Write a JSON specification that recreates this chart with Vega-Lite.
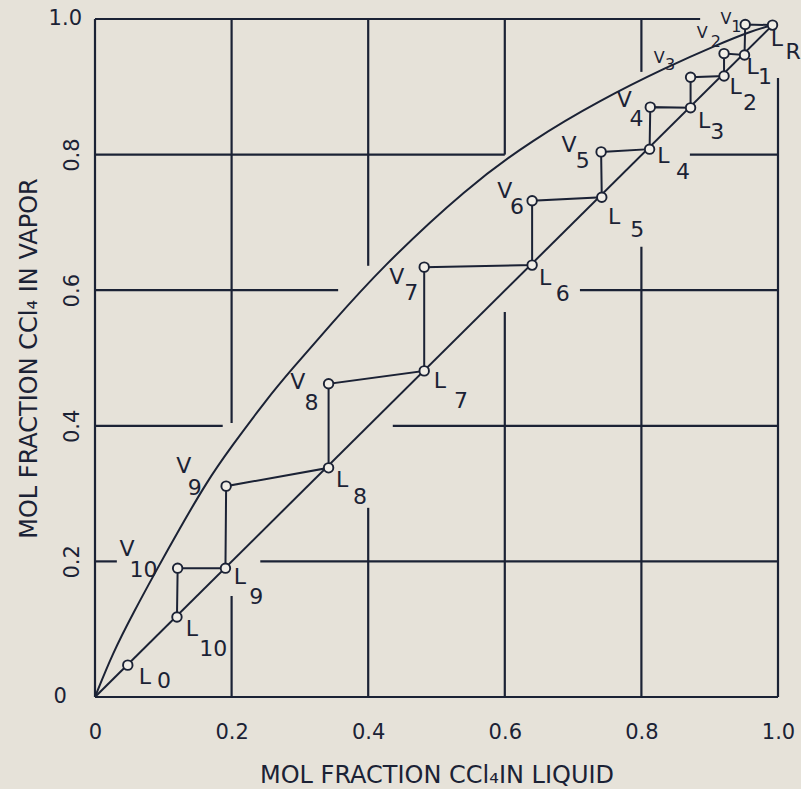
{
  "$schema": "https://vega.github.io/schema/vega-lite/v6.json",
  "width": 683,
  "height": 678,
  "autosize": "none",
  "padding": {"left": 95, "top": 19, "right": 23, "bottom": 92},
  "background": "#e6e2d9",
  "config": {
    "view": {"stroke": null},
    "font": "DejaVu Sans",
    "axis": {"labelFont": "DejaVu Sans", "titleFont": "DejaVu Sans", "labelColor": "#1b2235", "titleColor": "#1b2235", "titleFontWeight": "normal"}
  },
  "datasets": {
    "grid": [
      {"x": 0, "y": 0, "x2": 0, "y2": 1},
      {"x": 0, "y": 0, "x2": 1, "y2": 0},
      {"x": 0, "y": 1, "x2": 0.886, "y2": 1},
      {"x": 1, "y": 0, "x2": 1, "y2": 0.913},
      {"x": 0.2, "y": 0.404, "x2": 0.2, "y2": 1},
      {"x": 0.2, "y": 0, "x2": 0.2, "y2": 0.149},
      {"x": 0.4, "y": 0.636, "x2": 0.4, "y2": 1},
      {"x": 0.4, "y": 0, "x2": 0.4, "y2": 0.279},
      {"x": 0.6, "y": 0.8, "x2": 0.6, "y2": 1},
      {"x": 0.6, "y": 0, "x2": 0.6, "y2": 0.568},
      {"x": 0.8, "y": 0.922, "x2": 0.8, "y2": 1},
      {"x": 0.8, "y": 0, "x2": 0.8, "y2": 0.664},
      {"x": 0, "y": 0.2, "x2": 0.032, "y2": 0.2},
      {"x": 0.242, "y": 0.2, "x2": 1, "y2": 0.2},
      {"x": 0, "y": 0.4, "x2": 0.187, "y2": 0.4},
      {"x": 0.436, "y": 0.4, "x2": 1, "y2": 0.4},
      {"x": 0, "y": 0.6, "x2": 0.356, "y2": 0.6},
      {"x": 0.71, "y": 0.6, "x2": 1, "y2": 0.6},
      {"x": 0, "y": 0.8, "x2": 0.6, "y2": 0.8},
      {"x": 0.871, "y": 0.8, "x2": 1, "y2": 0.8}
    ],
    "yticks": [
      {"text": "1.0", "x": -0.019, "y": 1},
      {"text": "0", "x": -0.041, "y": 0}
    ],
    "curves": [
      {"curve": "diag", "x": 0, "y": 0},
      {"curve": "diag", "x": 0.992, "y": 0.991},
      {"curve": "equil", "x": 0, "y": 0},
      {"curve": "equil", "x": 0.026, "y": 0.065},
      {"curve": "equil", "x": 0.056, "y": 0.124},
      {"curve": "equil", "x": 0.091, "y": 0.189},
      {"curve": "equil", "x": 0.122, "y": 0.245},
      {"curve": "equil", "x": 0.164, "y": 0.318},
      {"curve": "equil", "x": 0.198, "y": 0.367},
      {"curve": "equil", "x": 0.252, "y": 0.440},
      {"curve": "equil", "x": 0.286, "y": 0.481},
      {"curve": "equil", "x": 0.344, "y": 0.548},
      {"curve": "equil", "x": 0.417, "y": 0.631},
      {"curve": "equil", "x": 0.545, "y": 0.752},
      {"curve": "equil", "x": 0.641, "y": 0.822},
      {"curve": "equil", "x": 0.739, "y": 0.880},
      {"curve": "equil", "x": 0.837, "y": 0.929},
      {"curve": "equil", "x": 0.911, "y": 0.962},
      {"curve": "equil", "x": 0.963, "y": 0.983},
      {"curve": "equil", "x": 0.992, "y": 0.991}
    ],
    "nodes": [
      {"seq": 0, "name": "LR", "x": 0.992, "y": 0.991},
      {"seq": 1, "name": "V1", "x": 0.952, "y": 0.992},
      {"seq": 2, "name": "L1", "x": 0.951, "y": 0.947},
      {"seq": 3, "name": "V2", "x": 0.921, "y": 0.949},
      {"seq": 4, "name": "L2", "x": 0.921, "y": 0.916},
      {"seq": 5, "name": "V3", "x": 0.872, "y": 0.914},
      {"seq": 6, "name": "L3", "x": 0.872, "y": 0.869},
      {"seq": 7, "name": "V4", "x": 0.813, "y": 0.870},
      {"seq": 8, "name": "L4", "x": 0.812, "y": 0.808},
      {"seq": 9, "name": "V5", "x": 0.741, "y": 0.804},
      {"seq": 10, "name": "L5", "x": 0.742, "y": 0.737},
      {"seq": 11, "name": "V6", "x": 0.640, "y": 0.732},
      {"seq": 12, "name": "L6", "x": 0.640, "y": 0.637},
      {"seq": 13, "name": "V7", "x": 0.482, "y": 0.634},
      {"seq": 14, "name": "L7", "x": 0.482, "y": 0.481},
      {"seq": 15, "name": "V8", "x": 0.342, "y": 0.462},
      {"seq": 16, "name": "L8", "x": 0.342, "y": 0.338},
      {"seq": 17, "name": "V9", "x": 0.192, "y": 0.311},
      {"seq": 18, "name": "L9", "x": 0.191, "y": 0.190},
      {"seq": 19, "name": "V10", "x": 0.121, "y": 0.190},
      {"seq": 20, "name": "L10", "x": 0.120, "y": 0.118},
      {"seq": 21, "name": "L0", "x": 0.048, "y": 0.047}
    ],
    "labels": [
      {"stage": "LR", "text": "L", "x": 0.9985, "y": 0.9705},
      {"stage": "LR", "text": "R", "x": 1.022, "y": 0.951},
      {"stage": "V1", "text": "V", "x": 0.924, "y": 1.0},
      {"stage": "V1", "text": "1", "x": 0.939, "y": 0.988},
      {"stage": "V2", "text": "V", "x": 0.889, "y": 0.979},
      {"stage": "V2", "text": "2", "x": 0.909, "y": 0.966},
      {"stage": "V3", "text": "V", "x": 0.826, "y": 0.943},
      {"stage": "V3", "text": "3", "x": 0.842, "y": 0.932},
      {"stage": "L1", "text": "L", "x": 0.963, "y": 0.929},
      {"stage": "L1", "text": "1", "x": 0.981, "y": 0.914},
      {"stage": "L2", "text": "L", "x": 0.938, "y": 0.900},
      {"stage": "L2", "text": "2", "x": 0.959, "y": 0.876},
      {"stage": "V4", "text": "V", "x": 0.775, "y": 0.880},
      {"stage": "V4", "text": "4", "x": 0.793, "y": 0.853},
      {"stage": "L3", "text": "L", "x": 0.892, "y": 0.850},
      {"stage": "L3", "text": "3", "x": 0.911, "y": 0.833},
      {"stage": "V5", "text": "V", "x": 0.694, "y": 0.814},
      {"stage": "V5", "text": "5", "x": 0.714, "y": 0.790},
      {"stage": "L4", "text": "L", "x": 0.832, "y": 0.798},
      {"stage": "L4", "text": "4", "x": 0.861, "y": 0.774},
      {"stage": "V6", "text": "V", "x": 0.600, "y": 0.746},
      {"stage": "V6", "text": "6", "x": 0.618, "y": 0.722},
      {"stage": "L5", "text": "L", "x": 0.760, "y": 0.708},
      {"stage": "L5", "text": "5", "x": 0.794, "y": 0.689},
      {"stage": "L6", "text": "L", "x": 0.659, "y": 0.618},
      {"stage": "L6", "text": "6", "x": 0.685, "y": 0.594},
      {"stage": "V7", "text": "V", "x": 0.442, "y": 0.620},
      {"stage": "V7", "text": "7", "x": 0.463, "y": 0.596},
      {"stage": "L7", "text": "L", "x": 0.505, "y": 0.466},
      {"stage": "L7", "text": "7", "x": 0.536, "y": 0.437},
      {"stage": "V8", "text": "V", "x": 0.297, "y": 0.465},
      {"stage": "V8", "text": "8", "x": 0.317, "y": 0.434},
      {"stage": "L8", "text": "L", "x": 0.362, "y": 0.320},
      {"stage": "L8", "text": "8", "x": 0.388, "y": 0.295},
      {"stage": "V9", "text": "V", "x": 0.130, "y": 0.341},
      {"stage": "V9", "text": "9", "x": 0.146, "y": 0.308},
      {"stage": "V10", "text": "V", "x": 0.047, "y": 0.218},
      {"stage": "V10", "text": "10", "x": 0.071, "y": 0.188},
      {"stage": "L9", "text": "L", "x": 0.212, "y": 0.177},
      {"stage": "L9", "text": "9", "x": 0.236, "y": 0.147},
      {"stage": "L10", "text": "L", "x": 0.142, "y": 0.100},
      {"stage": "L10", "text": "10", "x": 0.173, "y": 0.071},
      {"stage": "L0", "text": "L", "x": 0.073, "y": 0.029},
      {"stage": "L0", "text": "0", "x": 0.101, "y": 0.024}
    ]
  },
  "layer": [
    {
      "data": {"name": "grid"},
      "mark": {"type": "rule", "color": "#1b2235", "strokeWidth": 2.2},
      "encoding": {
        "x": {
          "field": "x", "type": "quantitative",
          "scale": {"domain": [0, 1], "nice": false},
          "axis": {
            "values": [0, 0.2, 0.4, 0.6, 0.8, 1],
            "labelExpr": "datum.value == 0 ? '0' : format(datum.value, '.1f')",
            "labelFontSize": 21, "labelPadding": 24, "labelFlush": false,
            "domain": false, "ticks": false, "grid": false,
            "title": "MOL FRACTION CCl₄IN LIQUID",
            "titleFontSize": 24, "titlePadding": 21
          }
        },
        "x2": {"field": "x2"},
        "y": {
          "field": "y", "type": "quantitative",
          "scale": {"domain": [0, 1], "nice": false},
          "axis": {
            "values": [0.2, 0.4, 0.6, 0.8],
            "labelExpr": "format(datum.value, '.1f')",
            "labelAngle": 270, "labelFontSize": 21, "labelPadding": 13,
            "domain": false, "ticks": false, "grid": false,
            "title": "MOL FRACTION CCl₄ IN VAPOR",
            "titleFontSize": 24, "titlePadding": 20
          }
        },
        "y2": {"field": "y2"}
      }
    },
    {
      "data": {"name": "yticks"},
      "mark": {"type": "text", "font": "DejaVu Sans", "fontSize": 21, "color": "#1b2235", "align": "right", "baseline": "middle"},
      "encoding": {
        "x": {"field": "x", "type": "quantitative"},
        "y": {"field": "y", "type": "quantitative"},
        "text": {"field": "text"}
      }
    },
    {
      "data": {"name": "curves"},
      "mark": {"type": "line", "color": "#1b2235", "strokeWidth": 2, "interpolate": "basis"},
      "encoding": {
        "x": {"field": "x", "type": "quantitative"},
        "y": {"field": "y", "type": "quantitative"},
        "detail": {"field": "curve"}
      }
    },
    {
      "data": {"name": "nodes"},
      "transform": [{"filter": "datum.name != 'L0'"}],
      "mark": {"type": "line", "color": "#1b2235", "strokeWidth": 2},
      "encoding": {
        "x": {"field": "x", "type": "quantitative"},
        "y": {"field": "y", "type": "quantitative"},
        "order": {"field": "seq"}
      }
    },
    {
      "data": {"name": "nodes"},
      "mark": {"type": "point", "shape": "circle", "filled": false, "fill": "#f1eee7", "fillOpacity": 1, "stroke": "#1b2235", "strokeWidth": 1.9, "size": 90, "opacity": 1},
      "encoding": {
        "x": {"field": "x", "type": "quantitative"},
        "y": {"field": "y", "type": "quantitative"}
      }
    },
    {
      "data": {"name": "labels"},
      "transform": [{"filter": "indexof(['V1','V2','V3'], datum.stage) < 0"}],
      "mark": {"type": "text", "font": "DejaVu Sans", "fontSize": 22, "color": "#1b2235", "align": "center", "baseline": "middle"},
      "encoding": {
        "x": {"field": "x", "type": "quantitative"},
        "y": {"field": "y", "type": "quantitative"},
        "text": {"field": "text"}
      }
    },
    {
      "data": {"name": "labels"},
      "transform": [{"filter": "indexof(['V1','V2','V3'], datum.stage) >= 0"}],
      "mark": {"type": "text", "font": "DejaVu Sans", "fontSize": 16, "color": "#1b2235", "align": "center", "baseline": "middle"},
      "encoding": {
        "x": {"field": "x", "type": "quantitative"},
        "y": {"field": "y", "type": "quantitative"},
        "text": {"field": "text"}
      }
    }
  ]
}
